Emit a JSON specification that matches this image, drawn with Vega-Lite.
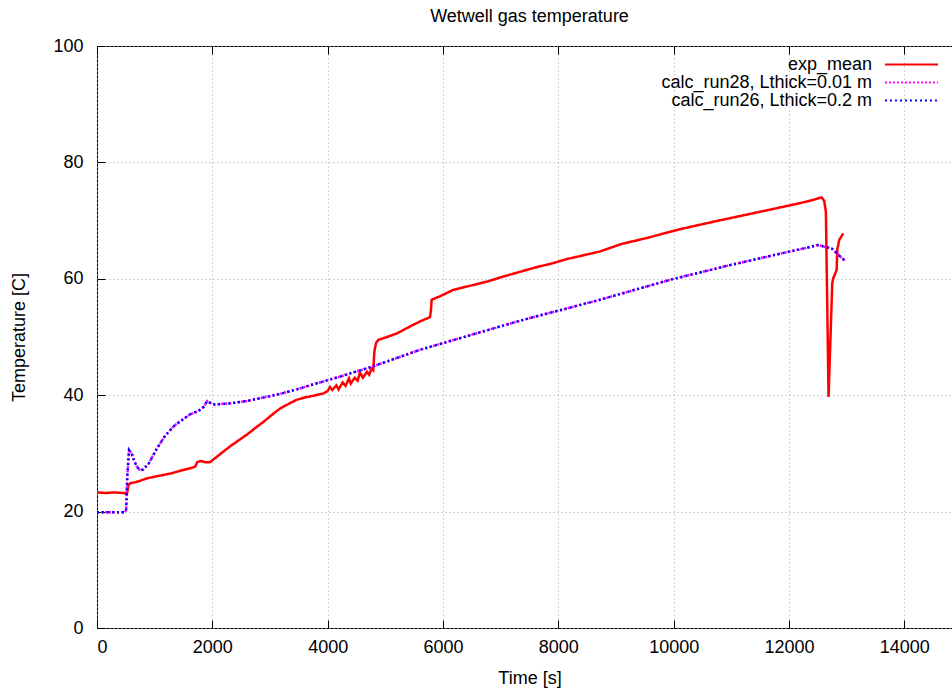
{
  "$schema": "https://vega.github.io/schema/vega-lite/v6.json",
  "width": 865,
  "height": 582,
  "autosize": {"type": "none"},
  "padding": {"left": 97, "top": 46, "right": 0, "bottom": 62},
  "background": "white",
  "title": {"text": "Wetwell gas temperature", "fontSize": 18, "fontWeight": "normal", "font": "Liberation Sans", "color": "#000", "baseline": "alphabetic", "offset": 22, "dy": 25},
  "datasets": {
    "exp": [
      {"s": "exp_mean", "t": 0, "T": 23.3}, {"s": "exp_mean", "t": 150, "T": 23.2}, {"s": "exp_mean", "t": 300, "T": 23.3}, {"s": "exp_mean", "t": 450, "T": 23.2},
      {"s": "exp_mean", "t": 520, "T": 23.1}, {"s": "exp_mean", "t": 545, "T": 24.5}, {"s": "exp_mean", "t": 580, "T": 24.9}, {"s": "exp_mean", "t": 650, "T": 25.0},
      {"s": "exp_mean", "t": 750, "T": 25.3}, {"s": "exp_mean", "t": 861, "T": 25.7}, {"s": "exp_mean", "t": 1000, "T": 26.0}, {"s": "exp_mean", "t": 1150, "T": 26.3},
      {"s": "exp_mean", "t": 1300, "T": 26.6}, {"s": "exp_mean", "t": 1439, "T": 27.0}, {"s": "exp_mean", "t": 1600, "T": 27.4}, {"s": "exp_mean", "t": 1700, "T": 27.7},
      {"s": "exp_mean", "t": 1740, "T": 28.5}, {"s": "exp_mean", "t": 1800, "T": 28.7}, {"s": "exp_mean", "t": 1870, "T": 28.5}, {"s": "exp_mean", "t": 1960, "T": 28.5},
      {"s": "exp_mean", "t": 2100, "T": 29.6}, {"s": "exp_mean", "t": 2306, "T": 31.2}, {"s": "exp_mean", "t": 2450, "T": 32.2}, {"s": "exp_mean", "t": 2596, "T": 33.2},
      {"s": "exp_mean", "t": 2750, "T": 34.4}, {"s": "exp_mean", "t": 2884, "T": 35.4}, {"s": "exp_mean", "t": 3030, "T": 36.6}, {"s": "exp_mean", "t": 3173, "T": 37.7},
      {"s": "exp_mean", "t": 3320, "T": 38.5}, {"s": "exp_mean", "t": 3462, "T": 39.2}, {"s": "exp_mean", "t": 3600, "T": 39.6}, {"s": "exp_mean", "t": 3750, "T": 39.9},
      {"s": "exp_mean", "t": 3924, "T": 40.3}, {"s": "exp_mean", "t": 4000, "T": 40.7}, {"s": "exp_mean", "t": 4040, "T": 41.4}, {"s": "exp_mean", "t": 4080, "T": 40.9},
      {"s": "exp_mean", "t": 4150, "T": 41.7}, {"s": "exp_mean", "t": 4190, "T": 41.0}, {"s": "exp_mean", "t": 4260, "T": 42.2}, {"s": "exp_mean", "t": 4310, "T": 41.6},
      {"s": "exp_mean", "t": 4370, "T": 42.9}, {"s": "exp_mean", "t": 4400, "T": 42.0}, {"s": "exp_mean", "t": 4470, "T": 43.0}, {"s": "exp_mean", "t": 4520, "T": 42.5},
      {"s": "exp_mean", "t": 4560, "T": 43.9}, {"s": "exp_mean", "t": 4610, "T": 43.0}, {"s": "exp_mean", "t": 4680, "T": 44.0}, {"s": "exp_mean", "t": 4720, "T": 43.5},
      {"s": "exp_mean", "t": 4760, "T": 44.6}, {"s": "exp_mean", "t": 4790, "T": 44.3}, {"s": "exp_mean", "t": 4810, "T": 47.5}, {"s": "exp_mean", "t": 4840, "T": 49.0},
      {"s": "exp_mean", "t": 4878, "T": 49.5}, {"s": "exp_mean", "t": 5000, "T": 49.9}, {"s": "exp_mean", "t": 5197, "T": 50.6}, {"s": "exp_mean", "t": 5350, "T": 51.4},
      {"s": "exp_mean", "t": 5485, "T": 52.1}, {"s": "exp_mean", "t": 5630, "T": 52.8}, {"s": "exp_mean", "t": 5774, "T": 53.4}, {"s": "exp_mean", "t": 5790, "T": 54.5},
      {"s": "exp_mean", "t": 5803, "T": 56.4}, {"s": "exp_mean", "t": 5948, "T": 57.0}, {"s": "exp_mean", "t": 6179, "T": 58.1}, {"s": "exp_mean", "t": 6468, "T": 58.8},
      {"s": "exp_mean", "t": 6757, "T": 59.5}, {"s": "exp_mean", "t": 7050, "T": 60.4}, {"s": "exp_mean", "t": 7335, "T": 61.2}, {"s": "exp_mean", "t": 7620, "T": 62.0},
      {"s": "exp_mean", "t": 7913, "T": 62.7}, {"s": "exp_mean", "t": 8150, "T": 63.4}, {"s": "exp_mean", "t": 8375, "T": 63.9}, {"s": "exp_mean", "t": 8722, "T": 64.7},
      {"s": "exp_mean", "t": 9100, "T": 66.0}, {"s": "exp_mean", "t": 9532, "T": 67.0}, {"s": "exp_mean", "t": 10100, "T": 68.5}, {"s": "exp_mean", "t": 10687, "T": 69.8},
      {"s": "exp_mean", "t": 11300, "T": 71.1}, {"s": "exp_mean", "t": 11960, "T": 72.5}, {"s": "exp_mean", "t": 12190, "T": 73.0}, {"s": "exp_mean", "t": 12400, "T": 73.5},
      {"s": "exp_mean", "t": 12565, "T": 74.0}, {"s": "exp_mean", "t": 12610, "T": 73.4}, {"s": "exp_mean", "t": 12640, "T": 71.5}, {"s": "exp_mean", "t": 12686, "T": 39.7},
      {"s": "exp_mean", "t": 12750, "T": 59.2}, {"s": "exp_mean", "t": 12767, "T": 60.1}, {"s": "exp_mean", "t": 12826, "T": 61.5}, {"s": "exp_mean", "t": 12837, "T": 65.0},
      {"s": "exp_mean", "t": 12872, "T": 66.7}, {"s": "exp_mean", "t": 12941, "T": 67.8}
    ],
    "calc28": [
      {"s": "calc_run28, Lthick=0.01 m", "t": 0, "T": 19.9}, {"s": "calc_run28, Lthick=0.01 m", "t": 480, "T": 19.9}, {"s": "calc_run28, Lthick=0.01 m", "t": 505, "T": 20.3},
      {"s": "calc_run28, Lthick=0.01 m", "t": 525, "T": 26.0}, {"s": "calc_run28, Lthick=0.01 m", "t": 555, "T": 30.6}, {"s": "calc_run28, Lthick=0.01 m", "t": 600, "T": 30.0},
      {"s": "calc_run28, Lthick=0.01 m", "t": 650, "T": 28.6}, {"s": "calc_run28, Lthick=0.01 m", "t": 700, "T": 27.6}, {"s": "calc_run28, Lthick=0.01 m", "t": 750, "T": 27.1},
      {"s": "calc_run28, Lthick=0.01 m", "t": 800, "T": 27.2}, {"s": "calc_run28, Lthick=0.01 m", "t": 900, "T": 28.3}, {"s": "calc_run28, Lthick=0.01 m", "t": 1035, "T": 30.8},
      {"s": "calc_run28, Lthick=0.01 m", "t": 1180, "T": 33.0}, {"s": "calc_run28, Lthick=0.01 m", "t": 1323, "T": 34.6}, {"s": "calc_run28, Lthick=0.01 m", "t": 1440, "T": 35.5},
      {"s": "calc_run28, Lthick=0.01 m", "t": 1613, "T": 36.7}, {"s": "calc_run28, Lthick=0.01 m", "t": 1760, "T": 37.3}, {"s": "calc_run28, Lthick=0.01 m", "t": 1850, "T": 38.0},
      {"s": "calc_run28, Lthick=0.01 m", "t": 1910, "T": 39.0}, {"s": "calc_run28, Lthick=0.01 m", "t": 1960, "T": 38.7}, {"s": "calc_run28, Lthick=0.01 m", "t": 2046, "T": 38.4},
      {"s": "calc_run28, Lthick=0.01 m", "t": 2306, "T": 38.6}, {"s": "calc_run28, Lthick=0.01 m", "t": 2600, "T": 39.0}, {"s": "calc_run28, Lthick=0.01 m", "t": 2884, "T": 39.6},
      {"s": "calc_run28, Lthick=0.01 m", "t": 3170, "T": 40.2}, {"s": "calc_run28, Lthick=0.01 m", "t": 3462, "T": 41.0}, {"s": "calc_run28, Lthick=0.01 m", "t": 3800, "T": 42.0},
      {"s": "calc_run28, Lthick=0.01 m", "t": 4214, "T": 43.2}, {"s": "calc_run28, Lthick=0.01 m", "t": 4800, "T": 45.0}, {"s": "calc_run28, Lthick=0.01 m", "t": 5601, "T": 47.8},
      {"s": "calc_run28, Lthick=0.01 m", "t": 6468, "T": 50.3}, {"s": "calc_run28, Lthick=0.01 m", "t": 7335, "T": 52.8}, {"s": "calc_run28, Lthick=0.01 m", "t": 8375, "T": 55.5},
      {"s": "calc_run28, Lthick=0.01 m", "t": 8722, "T": 56.4}, {"s": "calc_run28, Lthick=0.01 m", "t": 9965, "T": 59.9}, {"s": "calc_run28, Lthick=0.01 m", "t": 11000, "T": 62.4},
      {"s": "calc_run28, Lthick=0.01 m", "t": 12017, "T": 64.7}, {"s": "calc_run28, Lthick=0.01 m", "t": 12300, "T": 65.3}, {"s": "calc_run28, Lthick=0.01 m", "t": 12500, "T": 65.8},
      {"s": "calc_run28, Lthick=0.01 m", "t": 12740, "T": 65.2}, {"s": "calc_run28, Lthick=0.01 m", "t": 12970, "T": 63.1}
    ],
    "calc26": [
      {"s": "calc_run26, Lthick=0.2 m", "t": 0, "T": 19.9}, {"s": "calc_run26, Lthick=0.2 m", "t": 480, "T": 19.9}, {"s": "calc_run26, Lthick=0.2 m", "t": 505, "T": 20.3},
      {"s": "calc_run26, Lthick=0.2 m", "t": 525, "T": 26.0}, {"s": "calc_run26, Lthick=0.2 m", "t": 555, "T": 30.6}, {"s": "calc_run26, Lthick=0.2 m", "t": 600, "T": 30.0},
      {"s": "calc_run26, Lthick=0.2 m", "t": 650, "T": 28.6}, {"s": "calc_run26, Lthick=0.2 m", "t": 700, "T": 27.6}, {"s": "calc_run26, Lthick=0.2 m", "t": 750, "T": 27.1},
      {"s": "calc_run26, Lthick=0.2 m", "t": 800, "T": 27.2}, {"s": "calc_run26, Lthick=0.2 m", "t": 900, "T": 28.3}, {"s": "calc_run26, Lthick=0.2 m", "t": 1035, "T": 30.8},
      {"s": "calc_run26, Lthick=0.2 m", "t": 1180, "T": 33.0}, {"s": "calc_run26, Lthick=0.2 m", "t": 1323, "T": 34.6}, {"s": "calc_run26, Lthick=0.2 m", "t": 1440, "T": 35.5},
      {"s": "calc_run26, Lthick=0.2 m", "t": 1613, "T": 36.7}, {"s": "calc_run26, Lthick=0.2 m", "t": 1760, "T": 37.3}, {"s": "calc_run26, Lthick=0.2 m", "t": 1850, "T": 38.0},
      {"s": "calc_run26, Lthick=0.2 m", "t": 1910, "T": 39.0}, {"s": "calc_run26, Lthick=0.2 m", "t": 1960, "T": 38.7}, {"s": "calc_run26, Lthick=0.2 m", "t": 2046, "T": 38.4},
      {"s": "calc_run26, Lthick=0.2 m", "t": 2306, "T": 38.6}, {"s": "calc_run26, Lthick=0.2 m", "t": 2600, "T": 39.0}, {"s": "calc_run26, Lthick=0.2 m", "t": 2884, "T": 39.6},
      {"s": "calc_run26, Lthick=0.2 m", "t": 3170, "T": 40.2}, {"s": "calc_run26, Lthick=0.2 m", "t": 3462, "T": 41.0}, {"s": "calc_run26, Lthick=0.2 m", "t": 3800, "T": 42.0},
      {"s": "calc_run26, Lthick=0.2 m", "t": 4214, "T": 43.2}, {"s": "calc_run26, Lthick=0.2 m", "t": 4800, "T": 45.0}, {"s": "calc_run26, Lthick=0.2 m", "t": 5601, "T": 47.8},
      {"s": "calc_run26, Lthick=0.2 m", "t": 6468, "T": 50.3}, {"s": "calc_run26, Lthick=0.2 m", "t": 7335, "T": 52.8}, {"s": "calc_run26, Lthick=0.2 m", "t": 8375, "T": 55.5},
      {"s": "calc_run26, Lthick=0.2 m", "t": 8722, "T": 56.4}, {"s": "calc_run26, Lthick=0.2 m", "t": 9965, "T": 59.9}, {"s": "calc_run26, Lthick=0.2 m", "t": 11000, "T": 62.4},
      {"s": "calc_run26, Lthick=0.2 m", "t": 12017, "T": 64.7}, {"s": "calc_run26, Lthick=0.2 m", "t": 12300, "T": 65.3}, {"s": "calc_run26, Lthick=0.2 m", "t": 12500, "T": 65.8},
      {"s": "calc_run26, Lthick=0.2 m", "t": 12740, "T": 65.2}, {"s": "calc_run26, Lthick=0.2 m", "t": 12970, "T": 63.1}
    ]
  },
  "resolve": {"axis": {"x": "independent", "y": "independent"}},
  "layer": [
    {
      "data": {"name": "exp"},
      "mark": {"type": "line", "strokeWidth": 2.5, "clip": true},
      "encoding": {
        "x": {"field": "t", "type": "quantitative", "scale": {"domain": [0, 15000], "nice": false, "zero": false},
              "axis": {"orient": "bottom", "values": [0, 2000, 4000, 6000, 8000, 10000, 12000, 14000], "format": "d", "title": "Time [s]", "grid": true}},
        "y": {"field": "T", "type": "quantitative", "scale": {"domain": [0, 100], "nice": false},
              "axis": {"orient": "left", "values": [0, 20, 40, 60, 80, 100], "format": "d", "title": "Temperature [C]", "grid": true}},
        "color": {"field": "s", "type": "nominal", "title": null,
                  "scale": {"domain": ["exp_mean", "calc_run28, Lthick=0.01 m", "calc_run26, Lthick=0.2 m"], "range": ["#ff0000", "#ff00ff", "#0000ff"]}},
        "strokeDash": {"field": "s", "type": "nominal", "title": null,
                  "scale": {"domain": ["exp_mean", "calc_run28, Lthick=0.01 m", "calc_run26, Lthick=0.2 m"], "range": [[1, 0], [2, 2], [2, 3]]}}
      }
    },
    {
      "data": {"name": "calc28"},
      "mark": {"type": "line", "strokeWidth": 2.5, "clip": true},
      "encoding": {
        "x": {"field": "t", "type": "quantitative", "axis": {"orient": "top", "values": [0, 2000, 4000, 6000, 8000, 10000, 12000, 14000], "labels": false, "title": null, "grid": false}},
        "y": {"field": "T", "type": "quantitative", "axis": {"orient": "right", "values": [0, 20, 40, 60, 80, 100], "labels": false, "title": null, "grid": false}},
        "color": {"field": "s", "type": "nominal", "title": null},
        "strokeDash": {"field": "s", "type": "nominal", "title": null}
      }
    },
    {
      "data": {"name": "calc26"},
      "mark": {"type": "line", "strokeWidth": 2.5, "clip": true},
      "encoding": {
        "x": {"field": "t", "type": "quantitative", "axis": null},
        "y": {"field": "T", "type": "quantitative", "axis": null},
        "color": {"field": "s", "type": "nominal", "title": null},
        "strokeDash": {"field": "s", "type": "nominal", "title": null}
      }
    }
  ],
  "config": {
    "font": "Liberation Sans",
    "view": {"stroke": "#000", "strokeWidth": 1},
    "axis": {
      "domain": false,
      "tickColor": "#000",
      "tickSize": -8,
      "tickWidth": 1,
      "labelFontSize": 18,
      "labelColor": "#000",
      "labelFont": "Liberation Sans",
      "titleFontSize": 18,
      "titleFontWeight": "normal",
      "titleColor": "#000",
      "titleFont": "Liberation Sans",
      "gridColor": "#a8a8a8",
      "gridDash": [1, 3],
      "gridWidth": 1,
      "gridOpacity": 1
    },
    "axisBottom": {"labelPadding": 18, "titlePadding": 13},
    "axisLeft": {"labelPadding": 22, "titlePadding": 24},
    "legend": {
      "orient": "none",
      "legendX": 805.5,
      "legendY": 9.5,
      "padding": 0,
      "symbolType": "M-4,0H4",
      "symbolSize": 176,
      "symbolStrokeWidth": 2,
      "labelAlign": "right",
      "labelOffset": -48.5,
      "rowPadding": -2,
      "labelFontSize": 18,
      "labelColor": "#000",
      "labelFont": "Liberation Sans",
      "labelLimit": 400
    }
  }
}
